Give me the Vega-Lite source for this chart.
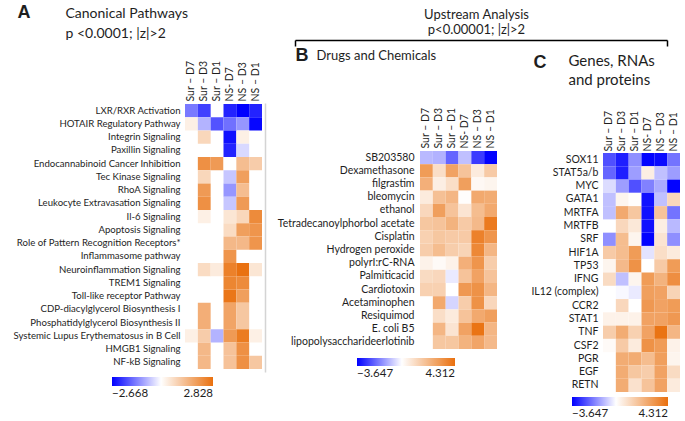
{
  "$schema": "https://vega.github.io/schema/vega-lite/v6.json",
  "width": 685,
  "height": 421,
  "autosize": {"type": "none"},
  "padding": 0,
  "background": "white",
  "config": {
    "view": {"stroke": null},
    "font": "Lato",
    "axis": {"grid": false, "labelFont": "Lato", "labelColor": "#1e1e1e", "titleFont": "Lato", "titleColor": "#1e1e1e", "titleFontWeight": "normal", "labelLimit": 400},
    "legend": {"labelFont": "Lato", "labelColor": "#1e1e1e"}
  },
  "datasets": {
    "pathways": [
      {"row": "LXR/RXR Activation", "col": "Sur – D7", "z": -1.4},
      {"row": "LXR/RXR Activation", "col": "Sur – D3", "z": -2.0},
      {"row": "LXR/RXR Activation", "col": "NS- D7", "z": -2.3},
      {"row": "LXR/RXR Activation", "col": "NS – D3", "z": -2.668},
      {"row": "LXR/RXR Activation", "col": "NS – D1", "z": -2.3},
      {"row": "HOTAIR Regulatory Pathway", "col": "Sur – D7", "z": 0.3},
      {"row": "HOTAIR Regulatory Pathway", "col": "Sur – D3", "z": -0.8},
      {"row": "HOTAIR Regulatory Pathway", "col": "Sur – D1", "z": -1.8},
      {"row": "HOTAIR Regulatory Pathway", "col": "NS- D7", "z": -1.5},
      {"row": "HOTAIR Regulatory Pathway", "col": "NS – D3", "z": -1.1},
      {"row": "HOTAIR Regulatory Pathway", "col": "NS – D1", "z": -2.6},
      {"row": "Integrin Signaling", "col": "Sur – D3", "z": 0.8},
      {"row": "Integrin Signaling", "col": "NS- D7", "z": -2.5},
      {"row": "Integrin Signaling", "col": "NS – D3", "z": 0.3},
      {"row": "Paxillin Signaling", "col": "NS- D7", "z": -2.3},
      {"row": "Paxillin Signaling", "col": "NS – D3", "z": -0.4},
      {"row": "Endocannabinoid Cancer Inhibition", "col": "Sur – D3", "z": 2.2},
      {"row": "Endocannabinoid Cancer Inhibition", "col": "Sur – D1", "z": 2.0},
      {"row": "Endocannabinoid Cancer Inhibition", "col": "NS- D7", "z": 0.0},
      {"row": "Endocannabinoid Cancer Inhibition", "col": "NS – D3", "z": 1.3},
      {"row": "Endocannabinoid Cancer Inhibition", "col": "NS – D1", "z": 1.0},
      {"row": "Tec Kinase Signaling", "col": "Sur – D3", "z": 0.8},
      {"row": "Tec Kinase Signaling", "col": "NS- D7", "z": -0.6},
      {"row": "Tec Kinase Signaling", "col": "NS – D3", "z": 1.9},
      {"row": "RhoA Signaling", "col": "Sur – D3", "z": 2.0},
      {"row": "RhoA Signaling", "col": "NS- D7", "z": -1.1},
      {"row": "RhoA Signaling", "col": "NS – D3", "z": 1.3},
      {"row": "Leukocyte Extravasation Signaling", "col": "Sur – D3", "z": 2.2},
      {"row": "Leukocyte Extravasation Signaling", "col": "NS- D7", "z": -0.6},
      {"row": "Leukocyte Extravasation Signaling", "col": "NS – D3", "z": 2.0},
      {"row": "Il-6 Signaling", "col": "Sur – D3", "z": 0.3},
      {"row": "Il-6 Signaling", "col": "NS- D7", "z": 0.5},
      {"row": "Il-6 Signaling", "col": "NS – D3", "z": 0.8},
      {"row": "Il-6 Signaling", "col": "NS – D1", "z": 2.3},
      {"row": "Apoptosis Signaling", "col": "NS- D7", "z": 0.7},
      {"row": "Apoptosis Signaling", "col": "NS – D3", "z": 1.9},
      {"row": "Apoptosis Signaling", "col": "NS – D1", "z": 2.1},
      {"row": "Role of Pattern Recognition Receptors*", "col": "NS- D7", "z": 1.4},
      {"row": "Role of Pattern Recognition Receptors*", "col": "NS – D3", "z": 1.4},
      {"row": "Role of Pattern Recognition Receptors*", "col": "NS – D1", "z": 2.1},
      {"row": "Inflammasome pathway", "col": "NS- D7", "z": 2.1},
      {"row": "Neuroinflammation Signaling", "col": "Sur – D3", "z": 0.7},
      {"row": "Neuroinflammation Signaling", "col": "Sur – D1", "z": 0.4},
      {"row": "Neuroinflammation Signaling", "col": "NS- D7", "z": 2.5},
      {"row": "Neuroinflammation Signaling", "col": "NS – D3", "z": 2.8},
      {"row": "Neuroinflammation Signaling", "col": "NS – D1", "z": 0.5},
      {"row": "TREM1 Signaling", "col": "NS- D7", "z": 2.4},
      {"row": "TREM1 Signaling", "col": "NS – D3", "z": 2.3},
      {"row": "Toll-like receptor Pathway", "col": "NS- D7", "z": 2.7},
      {"row": "Toll-like receptor Pathway", "col": "NS – D3", "z": 1.9},
      {"row": "CDP-diacylglycerol Biosynthesis I", "col": "Sur – D3", "z": 1.6},
      {"row": "CDP-diacylglycerol Biosynthesis I", "col": "NS- D7", "z": 1.8},
      {"row": "CDP-diacylglycerol Biosynthesis I", "col": "NS – D3", "z": 1.1},
      {"row": "Phosphatidylglycerol Biosynthesis II", "col": "Sur – D3", "z": 1.6},
      {"row": "Phosphatidylglycerol Biosynthesis II", "col": "NS- D7", "z": 1.8},
      {"row": "Phosphatidylglycerol Biosynthesis II", "col": "NS – D3", "z": 1.1},
      {"row": "Systemic Lupus Erythematosus in B Cell", "col": "Sur – D7", "z": 0.3},
      {"row": "Systemic Lupus Erythematosus in B Cell", "col": "Sur – D3", "z": 1.0},
      {"row": "Systemic Lupus Erythematosus in B Cell", "col": "Sur – D1", "z": -0.8},
      {"row": "Systemic Lupus Erythematosus in B Cell", "col": "NS- D7", "z": 2.0},
      {"row": "Systemic Lupus Erythematosus in B Cell", "col": "NS – D3", "z": 2.6},
      {"row": "Systemic Lupus Erythematosus in B Cell", "col": "NS – D1", "z": 0.3},
      {"row": "HMGB1 Signaling", "col": "Sur – D3", "z": 1.4},
      {"row": "HMGB1 Signaling", "col": "NS- D7", "z": 1.2},
      {"row": "HMGB1 Signaling", "col": "NS – D3", "z": 2.2},
      {"row": "NF-kB Signaling", "col": "Sur – D3", "z": 1.4},
      {"row": "NF-kB Signaling", "col": "NS- D7", "z": 1.2},
      {"row": "NF-kB Signaling", "col": "NS – D3", "z": 2.2},
      {"row": "NF-kB Signaling", "col": "NS – D1", "z": 1.1}
    ],
    "drugs": [
      {"row": "SB203580", "col": "Sur – D7", "z": -1.0},
      {"row": "SB203580", "col": "Sur – D3", "z": -1.1},
      {"row": "SB203580", "col": "Sur – D1", "z": -2.2},
      {"row": "SB203580", "col": "NS- D7", "z": -0.9},
      {"row": "SB203580", "col": "NS – D3", "z": -2.8},
      {"row": "SB203580", "col": "NS – D1", "z": -3.6},
      {"row": "Dexamethasone", "col": "Sur – D7", "z": 3.0},
      {"row": "Dexamethasone", "col": "Sur – D3", "z": 1.0},
      {"row": "Dexamethasone", "col": "Sur – D1", "z": 2.8},
      {"row": "Dexamethasone", "col": "NS- D7", "z": 1.8},
      {"row": "Dexamethasone", "col": "NS – D3", "z": 0.6},
      {"row": "Dexamethasone", "col": "NS – D1", "z": 1.6},
      {"row": "filgrastim", "col": "Sur – D7", "z": 2.4},
      {"row": "filgrastim", "col": "Sur – D3", "z": 0.5},
      {"row": "filgrastim", "col": "Sur – D1", "z": 1.0},
      {"row": "filgrastim", "col": "NS- D7", "z": 2.9},
      {"row": "filgrastim", "col": "NS – D3", "z": 0.2},
      {"row": "filgrastim", "col": "NS – D1", "z": 0.3},
      {"row": "bleomycin", "col": "Sur – D7", "z": 0.6},
      {"row": "bleomycin", "col": "Sur – D3", "z": 1.9},
      {"row": "bleomycin", "col": "Sur – D1", "z": 2.2},
      {"row": "bleomycin", "col": "NS- D7", "z": 0.05},
      {"row": "bleomycin", "col": "NS – D3", "z": 2.6},
      {"row": "bleomycin", "col": "NS – D1", "z": 2.5},
      {"row": "ethanol", "col": "Sur – D7", "z": 1.2},
      {"row": "ethanol", "col": "Sur – D3", "z": 2.9},
      {"row": "ethanol", "col": "Sur – D1", "z": 1.8},
      {"row": "ethanol", "col": "NS- D7", "z": 0.8},
      {"row": "ethanol", "col": "NS – D3", "z": 2.0},
      {"row": "ethanol", "col": "NS – D1", "z": 2.6},
      {"row": "Tetradecanoylphorbol acetate", "col": "Sur – D7", "z": 1.7},
      {"row": "Tetradecanoylphorbol acetate", "col": "Sur – D3", "z": 1.8},
      {"row": "Tetradecanoylphorbol acetate", "col": "Sur – D1", "z": 2.3},
      {"row": "Tetradecanoylphorbol acetate", "col": "NS- D7", "z": 1.6},
      {"row": "Tetradecanoylphorbol acetate", "col": "NS – D3", "z": 2.1},
      {"row": "Tetradecanoylphorbol acetate", "col": "NS – D1", "z": 4.0},
      {"row": "Cisplatin", "col": "Sur – D7", "z": 1.4},
      {"row": "Cisplatin", "col": "Sur – D3", "z": 1.7},
      {"row": "Cisplatin", "col": "Sur – D1", "z": 1.6},
      {"row": "Cisplatin", "col": "NS- D7", "z": 1.6},
      {"row": "Cisplatin", "col": "NS – D3", "z": 3.8},
      {"row": "Cisplatin", "col": "NS – D1", "z": 3.2},
      {"row": "Hydrogen peroxide", "col": "Sur – D7", "z": 1.5},
      {"row": "Hydrogen peroxide", "col": "Sur – D3", "z": 2.0},
      {"row": "Hydrogen peroxide", "col": "Sur – D1", "z": 1.5},
      {"row": "Hydrogen peroxide", "col": "NS- D7", "z": 1.3},
      {"row": "Hydrogen peroxide", "col": "NS – D3", "z": 3.6},
      {"row": "Hydrogen peroxide", "col": "NS – D1", "z": 2.2},
      {"row": "polyrI:rC-RNA", "col": "Sur – D7", "z": 0.4},
      {"row": "polyrI:rC-RNA", "col": "Sur – D3", "z": 0.15},
      {"row": "polyrI:rC-RNA", "col": "Sur – D1", "z": 0.4},
      {"row": "polyrI:rC-RNA", "col": "NS- D7", "z": 2.4},
      {"row": "polyrI:rC-RNA", "col": "NS – D3", "z": 3.2},
      {"row": "polyrI:rC-RNA", "col": "NS – D1", "z": 1.5},
      {"row": "Palmiticacid", "col": "Sur – D7", "z": 1.1},
      {"row": "Palmiticacid", "col": "Sur – D3", "z": 1.2},
      {"row": "Palmiticacid", "col": "Sur – D1", "z": -0.3},
      {"row": "Palmiticacid", "col": "NS- D7", "z": 1.8},
      {"row": "Palmiticacid", "col": "NS – D3", "z": 2.8},
      {"row": "Palmiticacid", "col": "NS – D1", "z": 1.8},
      {"row": "Cardiotoxin", "col": "Sur – D7", "z": 1.4},
      {"row": "Cardiotoxin", "col": "Sur – D3", "z": 1.4},
      {"row": "Cardiotoxin", "col": "NS- D7", "z": 3.1},
      {"row": "Cardiotoxin", "col": "NS – D3", "z": 3.3},
      {"row": "Cardiotoxin", "col": "NS – D1", "z": 2.2},
      {"row": "Acetaminophen", "col": "Sur – D3", "z": 2.6},
      {"row": "Acetaminophen", "col": "Sur – D1", "z": -0.6},
      {"row": "Acetaminophen", "col": "NS- D7", "z": 1.5},
      {"row": "Acetaminophen", "col": "NS – D3", "z": 3.3},
      {"row": "Acetaminophen", "col": "NS – D1", "z": 1.2},
      {"row": "Resiquimod", "col": "Sur – D3", "z": 1.0},
      {"row": "Resiquimod", "col": "Sur – D1", "z": 0.6},
      {"row": "Resiquimod", "col": "NS- D7", "z": 1.8},
      {"row": "Resiquimod", "col": "NS – D3", "z": 2.6},
      {"row": "Resiquimod", "col": "NS – D1", "z": 2.9},
      {"row": "E. coli B5", "col": "Sur – D3", "z": 2.2},
      {"row": "E. coli B5", "col": "Sur – D1", "z": 0.8},
      {"row": "E. coli B5", "col": "NS- D7", "z": 2.8},
      {"row": "E. coli B5", "col": "NS – D3", "z": 4.2},
      {"row": "E. coli B5", "col": "NS – D1", "z": 2.2},
      {"row": "lipopolysaccharideerlotinib", "col": "Sur – D3", "z": 1.7},
      {"row": "lipopolysaccharideerlotinib", "col": "Sur – D1", "z": 1.7},
      {"row": "lipopolysaccharideerlotinib", "col": "NS- D7", "z": 2.3},
      {"row": "lipopolysaccharideerlotinib", "col": "NS – D3", "z": 2.7},
      {"row": "lipopolysaccharideerlotinib", "col": "NS – D1", "z": 2.1}
    ],
    "genes": [
      {"row": "SOX11", "col": "Sur – D7", "z": -2.5},
      {"row": "SOX11", "col": "Sur – D3", "z": -3.2},
      {"row": "SOX11", "col": "Sur – D1", "z": -1.6},
      {"row": "SOX11", "col": "NS- D7", "z": -3.6},
      {"row": "SOX11", "col": "NS – D3", "z": -3.5},
      {"row": "SOX11", "col": "NS – D1", "z": -2.0},
      {"row": "STAT5a/b", "col": "Sur – D7", "z": -2.2},
      {"row": "STAT5a/b", "col": "Sur – D3", "z": -3.2},
      {"row": "STAT5a/b", "col": "Sur – D1", "z": -1.4},
      {"row": "STAT5a/b", "col": "NS- D7", "z": 0.5},
      {"row": "STAT5a/b", "col": "NS – D3", "z": -0.9},
      {"row": "STAT5a/b", "col": "NS – D1", "z": -1.4},
      {"row": "MYC", "col": "Sur – D7", "z": -0.5},
      {"row": "MYC", "col": "Sur – D3", "z": -1.4},
      {"row": "MYC", "col": "Sur – D1", "z": -2.5},
      {"row": "MYC", "col": "NS- D7", "z": -1.8},
      {"row": "MYC", "col": "NS – D3", "z": -1.2},
      {"row": "MYC", "col": "NS – D1", "z": -3.6},
      {"row": "GATA1", "col": "Sur – D7", "z": -0.9},
      {"row": "GATA1", "col": "Sur – D3", "z": 0.3},
      {"row": "GATA1", "col": "Sur – D1", "z": 0.05},
      {"row": "GATA1", "col": "NS- D7", "z": -3.4},
      {"row": "GATA1", "col": "NS – D3", "z": -0.9},
      {"row": "GATA1", "col": "NS – D1", "z": 1.2},
      {"row": "MRTFA", "col": "Sur – D7", "z": -0.9},
      {"row": "MRTFA", "col": "Sur – D3", "z": 2.6},
      {"row": "MRTFA", "col": "Sur – D1", "z": 1.7},
      {"row": "MRTFA", "col": "NS- D7", "z": -3.4},
      {"row": "MRTFA", "col": "NS – D3", "z": 1.8},
      {"row": "MRTFA", "col": "NS – D1", "z": -2.0},
      {"row": "MRTFB", "col": "Sur – D3", "z": 1.2},
      {"row": "MRTFB", "col": "Sur – D1", "z": 0.7},
      {"row": "MRTFB", "col": "NS- D7", "z": -3.4},
      {"row": "MRTFB", "col": "NS – D3", "z": 0.5},
      {"row": "MRTFB", "col": "NS – D1", "z": -1.0},
      {"row": "SRF", "col": "Sur – D7", "z": -1.6},
      {"row": "SRF", "col": "Sur – D3", "z": 2.0},
      {"row": "SRF", "col": "Sur – D1", "z": 0.3},
      {"row": "SRF", "col": "NS- D7", "z": -3.6},
      {"row": "SRF", "col": "NS – D3", "z": 0.8},
      {"row": "SRF", "col": "NS – D1", "z": -1.6},
      {"row": "HIF1A", "col": "Sur – D7", "z": 1.6},
      {"row": "HIF1A", "col": "Sur – D3", "z": 2.0},
      {"row": "HIF1A", "col": "Sur – D1", "z": 3.0},
      {"row": "HIF1A", "col": "NS- D7", "z": -0.4},
      {"row": "HIF1A", "col": "NS – D3", "z": 1.0},
      {"row": "HIF1A", "col": "NS – D1", "z": 0.6},
      {"row": "TP53", "col": "Sur – D7", "z": 0.3},
      {"row": "TP53", "col": "Sur – D3", "z": 2.1},
      {"row": "TP53", "col": "Sur – D1", "z": 3.3},
      {"row": "TP53", "col": "NS- D7", "z": 0.0},
      {"row": "TP53", "col": "NS – D3", "z": 1.6},
      {"row": "TP53", "col": "NS – D1", "z": 3.0},
      {"row": "IFNG", "col": "Sur – D7", "z": 1.1},
      {"row": "IFNG", "col": "Sur – D3", "z": -0.9},
      {"row": "IFNG", "col": "Sur – D1", "z": 0.3},
      {"row": "IFNG", "col": "NS- D7", "z": 3.0},
      {"row": "IFNG", "col": "NS – D3", "z": 2.3},
      {"row": "IFNG", "col": "NS – D1", "z": 3.4},
      {"row": "IL12 (complex)", "col": "Sur – D3", "z": -0.1},
      {"row": "IL12 (complex)", "col": "Sur – D1", "z": -0.3},
      {"row": "IL12 (complex)", "col": "NS- D7", "z": 2.9},
      {"row": "IL12 (complex)", "col": "NS – D3", "z": 2.8},
      {"row": "IL12 (complex)", "col": "NS – D1", "z": 1.3},
      {"row": "CCR2", "col": "Sur – D3", "z": 1.2},
      {"row": "CCR2", "col": "Sur – D1", "z": 0.0},
      {"row": "CCR2", "col": "NS- D7", "z": 3.1},
      {"row": "CCR2", "col": "NS – D3", "z": 2.8},
      {"row": "CCR2", "col": "NS – D1", "z": 3.0},
      {"row": "STAT1", "col": "Sur – D7", "z": 0.4},
      {"row": "STAT1", "col": "Sur – D3", "z": 0.4},
      {"row": "STAT1", "col": "Sur – D1", "z": 0.4},
      {"row": "STAT1", "col": "NS- D7", "z": 2.8},
      {"row": "STAT1", "col": "NS – D3", "z": 2.8},
      {"row": "STAT1", "col": "NS – D1", "z": 3.1},
      {"row": "TNF", "col": "Sur – D7", "z": 1.5},
      {"row": "TNF", "col": "Sur – D3", "z": 2.5},
      {"row": "TNF", "col": "Sur – D1", "z": 1.4},
      {"row": "TNF", "col": "NS- D7", "z": 2.8},
      {"row": "TNF", "col": "NS – D3", "z": 4.2},
      {"row": "TNF", "col": "NS – D1", "z": 2.2},
      {"row": "CSF2", "col": "Sur – D7", "z": 0.15},
      {"row": "CSF2", "col": "Sur – D3", "z": 1.6},
      {"row": "CSF2", "col": "Sur – D1", "z": 0.6},
      {"row": "CSF2", "col": "NS- D7", "z": 3.3},
      {"row": "CSF2", "col": "NS – D3", "z": 3.0},
      {"row": "CSF2", "col": "NS – D1", "z": 0.4},
      {"row": "PGR", "col": "Sur – D3", "z": 2.5},
      {"row": "PGR", "col": "Sur – D1", "z": 2.5},
      {"row": "PGR", "col": "NS- D7", "z": 2.0},
      {"row": "PGR", "col": "NS – D3", "z": 2.9},
      {"row": "PGR", "col": "NS – D1", "z": 0.3},
      {"row": "EGF", "col": "Sur – D3", "z": 2.5},
      {"row": "EGF", "col": "Sur – D1", "z": 1.7},
      {"row": "EGF", "col": "NS- D7", "z": 1.5},
      {"row": "EGF", "col": "NS – D3", "z": 2.8},
      {"row": "EGF", "col": "NS – D1", "z": 1.1},
      {"row": "RETN", "col": "Sur – D3", "z": 2.5},
      {"row": "RETN", "col": "Sur – D1", "z": 0.9},
      {"row": "RETN", "col": "NS- D7", "z": 1.8},
      {"row": "RETN", "col": "NS – D3", "z": 2.8},
      {"row": "RETN", "col": "NS – D1", "z": 0.6}
    ]
  },
  "layer": [
    {
      "data": {"name": "pathways"},
      "mark": {"type": "rect", "strokeWidth": 0},
      "encoding": {
        "x": {"field": "col", "type": "nominal",
          "scale": {"domain": ["Sur – D7", "Sur – D3", "Sur – D1", "NS- D7", "NS – D3", "NS – D1"], "range": [185, 262], "paddingInner": 0, "paddingOuter": 0},
          "axis": {"orient": "top", "offset": -104, "labelAngle": -90, "labelPadding": 3, "ticks": false, "tickSize": 0, "domain": false, "labelFontSize": 10.5,
            "title": ["Canonical Pathways", "p <0.0001; |z|>2"], "titleX": 65, "titleY": -98, "titleAngle": 0, "titleAlign": "left", "titleBaseline": "top", "titleFontSize": 14, "titleLineHeight": 20}},
        "y": {"field": "row", "type": "nominal",
          "scale": {"domain": ["LXR/RXR Activation", "HOTAIR Regulatory Pathway", "Integrin Signaling", "Paxillin Signaling", "Endocannabinoid Cancer Inhibition", "Tec Kinase Signaling", "RhoA Signaling", "Leukocyte Extravasation Signaling", "Il-6 Signaling", "Apoptosis Signaling", "Role of Pattern Recognition Receptors*", "Inflammasome pathway", "Neuroinflammation Signaling", "TREM1 Signaling", "Toll-like receptor Pathway", "CDP-diacylglycerol Biosynthesis I", "Phosphatidylglycerol Biosynthesis II", "Systemic Lupus Erythematosus in B Cell", "HMGB1 Signaling", "NF-kB Signaling"], "range": [104, 369], "paddingInner": 0, "paddingOuter": 0},
          "axis": {"orient": "left", "offset": -185, "ticks": false, "tickSize": 0, "domain": false, "labelPadding": 5, "labelFontSize": 9.6,
            "title": "A", "titleX": -168, "titleY": 12, "titleAngle": 0, "titleAlign": "left", "titleBaseline": "middle", "titleFontSize": 18, "titleFontWeight": "bold", "titleFont": "Liberation Sans"}},
        "color": {"field": "z", "type": "quantitative",
          "scale": {"domain": [-2.668, 0, 2.828], "range": ["#0000ff", "#ffffff", "#e9700e"], "interpolate": "rgb"},
          "legend": {"orient": "none", "legendX": 112, "legendY": 377, "direction": "horizontal", "gradientLength": 101, "gradientThickness": 9, "title": null, "values": [-2.668, 2.828], "format": ".3f", "labelFontSize": 11.5, "labelOffset": 2, "padding": 0, "gradientStrokeWidth": 0}}
      }
    },
    {
      "data": {"name": "drugs"},
      "mark": {"type": "rect", "strokeWidth": 0},
      "encoding": {
        "x": {"field": "col", "type": "nominal",
          "scale": {"domain": ["Sur – D7", "Sur – D3", "Sur – D1", "NS- D7", "NS – D3", "NS – D1"], "range": [420, 497], "paddingInner": 0, "paddingOuter": 0},
          "axis": {"orient": "top", "offset": -151, "labelAngle": -90, "labelPadding": 3, "ticks": false, "tickSize": 0, "domain": false, "labelFontSize": 10.5,
            "title": "Drugs and Chemicals", "titleX": 316, "titleY": -96, "titleAngle": 0, "titleAlign": "left", "titleBaseline": "middle", "titleFontSize": 13}},
        "y": {"field": "row", "type": "nominal",
          "scale": {"domain": ["SB203580", "Dexamethasone", "filgrastim", "bleomycin", "ethanol", "Tetradecanoylphorbol acetate", "Cisplatin", "Hydrogen peroxide", "polyrI:rC-RNA", "Palmiticacid", "Cardiotoxin", "Acetaminophen", "Resiquimod", "E. coli B5", "lipopolysaccharideerlotinib"], "range": [151, 349], "paddingInner": 0, "paddingOuter": 0},
          "axis": {"orient": "left", "offset": -420, "ticks": false, "tickSize": 0, "domain": false, "labelPadding": 6, "labelFontSize": 10.5,
            "title": "B", "titleX": -125, "titleY": 55, "titleAngle": 0, "titleAlign": "left", "titleBaseline": "middle", "titleFontSize": 18, "titleFontWeight": "bold", "titleFont": "Liberation Sans"}},
        "color": {"field": "z", "type": "quantitative",
          "scale": {"domain": [-3.647, 0, 4.312], "range": ["#0000ff", "#ffffff", "#e9700e"], "interpolate": "rgb"},
          "legend": {"orient": "none", "legendX": 357, "legendY": 358, "direction": "horizontal", "gradientLength": 98, "gradientThickness": 8, "title": null, "values": [-3.647, 4.312], "format": ".3f", "labelFontSize": 11.5, "labelOffset": 2, "padding": 0, "gradientStrokeWidth": 0}}
      }
    },
    {
      "data": {"name": "genes"},
      "mark": {"type": "rect", "strokeWidth": 0},
      "encoding": {
        "x": {"field": "col", "type": "nominal",
          "scale": {"domain": ["Sur – D7", "Sur – D3", "Sur – D1", "NS- D7", "NS – D3", "NS – D1"], "range": [603, 680], "paddingInner": 0, "paddingOuter": 0},
          "axis": {"orient": "top", "offset": -153, "labelAngle": -90, "labelPadding": 2, "ticks": false, "tickSize": 0, "domain": false, "labelFontSize": 10.5,
            "title": ["Genes, RNAs", "and proteins"], "titleX": 568, "titleY": -100, "titleAngle": 0, "titleAlign": "left", "titleBaseline": "top", "titleFontSize": 15, "titleLineHeight": 19}},
        "y": {"field": "row", "type": "nominal",
          "scale": {"domain": ["SOX11", "STAT5a/b", "MYC", "GATA1", "MRTFA", "MRTFB", "SRF", "HIF1A", "TP53", "IFNG", "IL12 (complex)", "CCR2", "STAT1", "TNF", "CSF2", "PGR", "EGF", "RETN"], "range": [153, 392], "paddingInner": 0, "paddingOuter": 0},
          "axis": {"orient": "left", "offset": -603, "ticks": false, "tickSize": 0, "domain": false, "labelPadding": 5, "labelFontSize": 10.5,
            "title": "C", "titleX": -70, "titleY": 62, "titleAngle": 0, "titleAlign": "left", "titleBaseline": "middle", "titleFontSize": 18, "titleFontWeight": "bold", "titleFont": "Liberation Sans"}},
        "color": {"field": "z", "type": "quantitative",
          "scale": {"domain": [-3.647, 0, 4.312], "range": ["#0000ff", "#ffffff", "#e9700e"], "interpolate": "rgb"},
          "legend": {"orient": "none", "legendX": 572, "legendY": 397, "direction": "horizontal", "gradientLength": 96, "gradientThickness": 9, "title": null, "values": [-3.647, 4.312], "format": ".3f", "labelFontSize": 11.5, "labelOffset": 2, "padding": 0, "gradientStrokeWidth": 0}}
      }
    },
    {
      "data": {"name": "drugs"},
      "mark": {"type": "point", "opacity": 0},
      "encoding": {
        "x": {"field": "z", "type": "quantitative",
          "scale": {"domain": [-5, 5], "range": [295, 667], "zero": false, "nice": false},
          "axis": {"orient": "top", "offset": -40, "values": [-5, 5], "labels": false, "ticks": true, "tickSize": -6, "tickWidth": 1.5, "tickColor": "#000000", "domain": true, "domainColor": "#000000", "domainWidth": 1.5, "grid": false,
            "title": ["Upstream Analysis", "p<0.00001; |z|>2"], "titleX": 476, "titleY": -32, "titleAngle": 0, "titleAlign": "center", "titleBaseline": "top", "titleFontSize": 13, "titleLineHeight": 15}},
        "y": {"field": "row", "type": "nominal",
          "scale": {"range": [103, 372], "paddingInner": 0, "paddingOuter": 0},
          "axis": {"orient": "left", "offset": -265, "labels": false, "ticks": false, "domain": true, "domainColor": "#d4d4d4", "domainWidth": 1.5, "title": null}}
      }
    }
  ],
  "resolve": {
    "scale": {"x": "independent", "y": "independent", "color": "independent"},
    "axis": {"x": "independent", "y": "independent"},
    "legend": {"color": "independent"}
  }
}
